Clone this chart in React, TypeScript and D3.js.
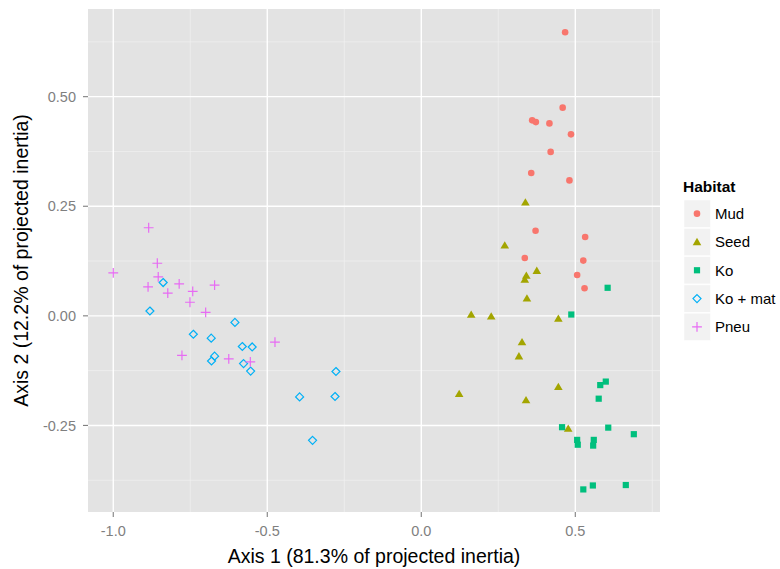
import React from "react";
import * as d3 from "d3";

const habitats = ["Mud", "Seed", "Ko", "Ko + mat", "Pneu"];
const colors = ["#F8766D", "#A3A500", "#00BF7D", "#00B0F6", "#E76BF3"];

const mudX = [0.467, 0.459, 0.360, 0.372, 0.416, 0.486, 0.420, 0.357, 0.481, 0.371, 0.532, 0.336, 0.526, 0.506, 0.530];
const mudY = [0.647, 0.475, 0.446, 0.442, 0.439, 0.414, 0.374, 0.326, 0.309, 0.194, 0.180, 0.132, 0.126, 0.093, 0.063];

const seedX = [0.338, 0.271, 0.375, 0.341, 0.336, 0.343, 0.162, 0.227, 0.445, 0.327, 0.317, 0.445, 0.123, 0.340, 0.477];
const seedY = [0.259, 0.161, 0.103, 0.092, 0.083, 0.040, 0.003, -0.001, -0.006, -0.060, -0.092, -0.162, -0.178, -0.192, -0.257];

const koX = [0.605, 0.487, 0.599, 0.581, 0.576, 0.457, 0.607, 0.690, 0.506, 0.508, 0.560, 0.558, 0.526, 0.557, 0.664];
const koY = [0.064, 0.003, -0.150, -0.158, -0.189, -0.254, -0.255, -0.270, -0.283, -0.294, -0.283, -0.296, -0.396, -0.387, -0.386];

const komatX = [-0.838, -0.881, -0.605, -0.740, -0.682, -0.581, -0.549, -0.671, -0.681, -0.577, -0.554, -0.277, -0.395, -0.280, -0.353];
const komatY = [0.076, 0.011, -0.015, -0.042, -0.051, -0.070, -0.071, -0.092, -0.103, -0.109, -0.126, -0.127, -0.185, -0.184, -0.284];

const pneuX = [-0.885, -0.857, -1.000, -0.854, -0.887, -0.786, -0.671, -0.742, -0.823, -0.751, -0.700, -0.475, -0.777, -0.625, -0.555];
const pneuY = [0.201, 0.120, 0.098, 0.089, 0.066, 0.073, 0.070, 0.056, 0.052, 0.031, 0.008, -0.060, -0.090, -0.098, -0.105];

const seriesX = [mudX, seedX, koX, komatX, pneuX];
const seriesY = [mudY, seedY, koY, komatY, pneuY];

const xTicks = [-1.0, -0.5, 0.0, 0.5];
const xMinor = [-0.75, -0.25, 0.25, 0.75];
const yTicks = [0.5, 0.25, 0.0, -0.25];
const yMinor = [0.625, 0.375, 0.125, -0.125, -0.375];

const W = 780;
const H = 569;
const panel = { left: 88, right: 660, top: 9, bottom: 512 };
const FONT = "'Liberation Sans', Arial, Helvetica, sans-serif";

function shapePath(kind: number): string {
  switch (kind) {
    case 0: {
      const r = 3.3;
      return `M${-r},0A${r},${r} 0 1,0 ${r},0A${r},${r} 0 1,0 ${-r},0Z`;
    }
    case 1: {
      const s = 4.3;
      return `M0,${-s * 0.95}L${s},${s * 0.75}L${-s},${s * 0.75}Z`;
    }
    case 2: {
      const s = 3.1;
      return `M${-s},${-s}H${s}V${s}H${-s}Z`;
    }
    case 3: {
      const s = 4.0;
      return `M0,${-s}L${s},0L0,${s}L${-s},0Z`;
    }
    default: {
      const s = 4.9;
      return `M${-s},0H${s}M0,${-s}V${s}`;
    }
  }
}

function Mark({ kind, color, x, y }: { kind: number; color: string; x: number; y: number }) {
  const filled = kind <= 2;
  return (
    <path
      d={shapePath(kind)}
      transform={`translate(${x},${y})`}
      fill={filled ? color : "none"}
      stroke={filled ? "none" : color}
      strokeWidth={filled ? 0 : 1.2}
    />
  );
}

export default function App() {
  const x = d3.scaleLinear().domain([-1.082, 0.775]).range([panel.left, panel.right]);
  const y = d3.scaleLinear().domain([-0.4475, 0.7]).range([panel.bottom, panel.top]);
  const fmtX = d3.format(".1f");
  const fmtY = d3.format(".2f");
  const minus = (s: string) => s.replace("−", "-");

  const legendTop = 200;
  const legendPitch = 28.3;

  return (
    <div style={{ position: "absolute", left: 0, top: 0 }}>
      <svg width={W} height={H} style={{ display: "block", background: "#fff" }}>
        <rect x={panel.left} y={panel.top} width={panel.right - panel.left} height={panel.bottom - panel.top} fill="#E3E3E3" />
        {xMinor.map((v) => (
          <line key={"xm" + v} x1={x(v)} x2={x(v)} y1={panel.top} y2={panel.bottom} stroke="#F0F0F0" strokeWidth={0.7} />
        ))}
        {yMinor.map((v) => (
          <line key={"ym" + v} y1={y(v)} y2={y(v)} x1={panel.left} x2={panel.right} stroke="#F0F0F0" strokeWidth={0.7} />
        ))}
        {xTicks.map((v) => (
          <line key={"xM" + v} x1={x(v)} x2={x(v)} y1={panel.top} y2={panel.bottom} stroke="#FFFFFF" strokeWidth={1.4} />
        ))}
        {yTicks.map((v) => (
          <line key={"yM" + v} y1={y(v)} y2={y(v)} x1={panel.left} x2={panel.right} stroke="#FFFFFF" strokeWidth={1.4} />
        ))}

        {seriesX.map((xs, si) =>
          xs.map((xv, i) => (
            <Mark key={si + "-" + i} kind={si} color={colors[si]} x={x(xv)} y={y(seriesY[si][i])} />
          ))
        )}

        {xTicks.map((v) => (
          <g key={"xt" + v}>
            <line x1={x(v)} x2={x(v)} y1={panel.bottom} y2={panel.bottom + 5} stroke="#7F7F7F" strokeWidth={1.1} />
            <text x={x(v)} y={panel.bottom + 24} textAnchor="middle" fontFamily={FONT} fontSize={14.5} fill="#7F7F7F">
              {minus(fmtX(v))}
            </text>
          </g>
        ))}
        {yTicks.map((v) => (
          <g key={"yt" + v}>
            <line x1={panel.left - 5} x2={panel.left} y1={y(v)} y2={y(v)} stroke="#7F7F7F" strokeWidth={1.1} />
            <text x={panel.left - 12} y={y(v)} dy="0.36em" textAnchor="end" fontFamily={FONT} fontSize={14.5} fill="#7F7F7F">
              {minus(fmtY(v))}
            </text>
          </g>
        ))}

        <text x={(panel.left + panel.right) / 2} y={563} textAnchor="middle" fontFamily={FONT} fontSize={19.5} fill="#000">
          Axis 1 (81.3% of projected inertia)
        </text>
        <text
          transform={`translate(28,${(panel.top + panel.bottom) / 2}) rotate(-90)`}
          textAnchor="middle"
          fontFamily={FONT}
          fontSize={19.5}
          fill="#000"
        >
          Axis 2 (12.2% of projected inertia)
        </text>

        <text x={683} y={192} fontFamily={FONT} fontSize={15.5} fontWeight="bold" fill="#000">
          Habitat
        </text>
        {habitats.map((h, i) => {
          const top = legendTop + i * legendPitch;
          return (
            <g key={h}>
              <rect x={684} y={top} width={26.5} height={legendPitch - 1} fill="#F2F2F2" stroke="#FFFFFF" strokeWidth={0.5} />
              <Mark kind={i} color={colors[i]} x={697} y={top + (legendPitch - 1) / 2} />
              <text x={715} y={top + (legendPitch - 1) / 2} dy="0.36em" fontFamily={FONT} fontSize={15} fill="#000">
                {h}
              </text>
            </g>
          );
        })}
      </svg>
    </div>
  );
}
